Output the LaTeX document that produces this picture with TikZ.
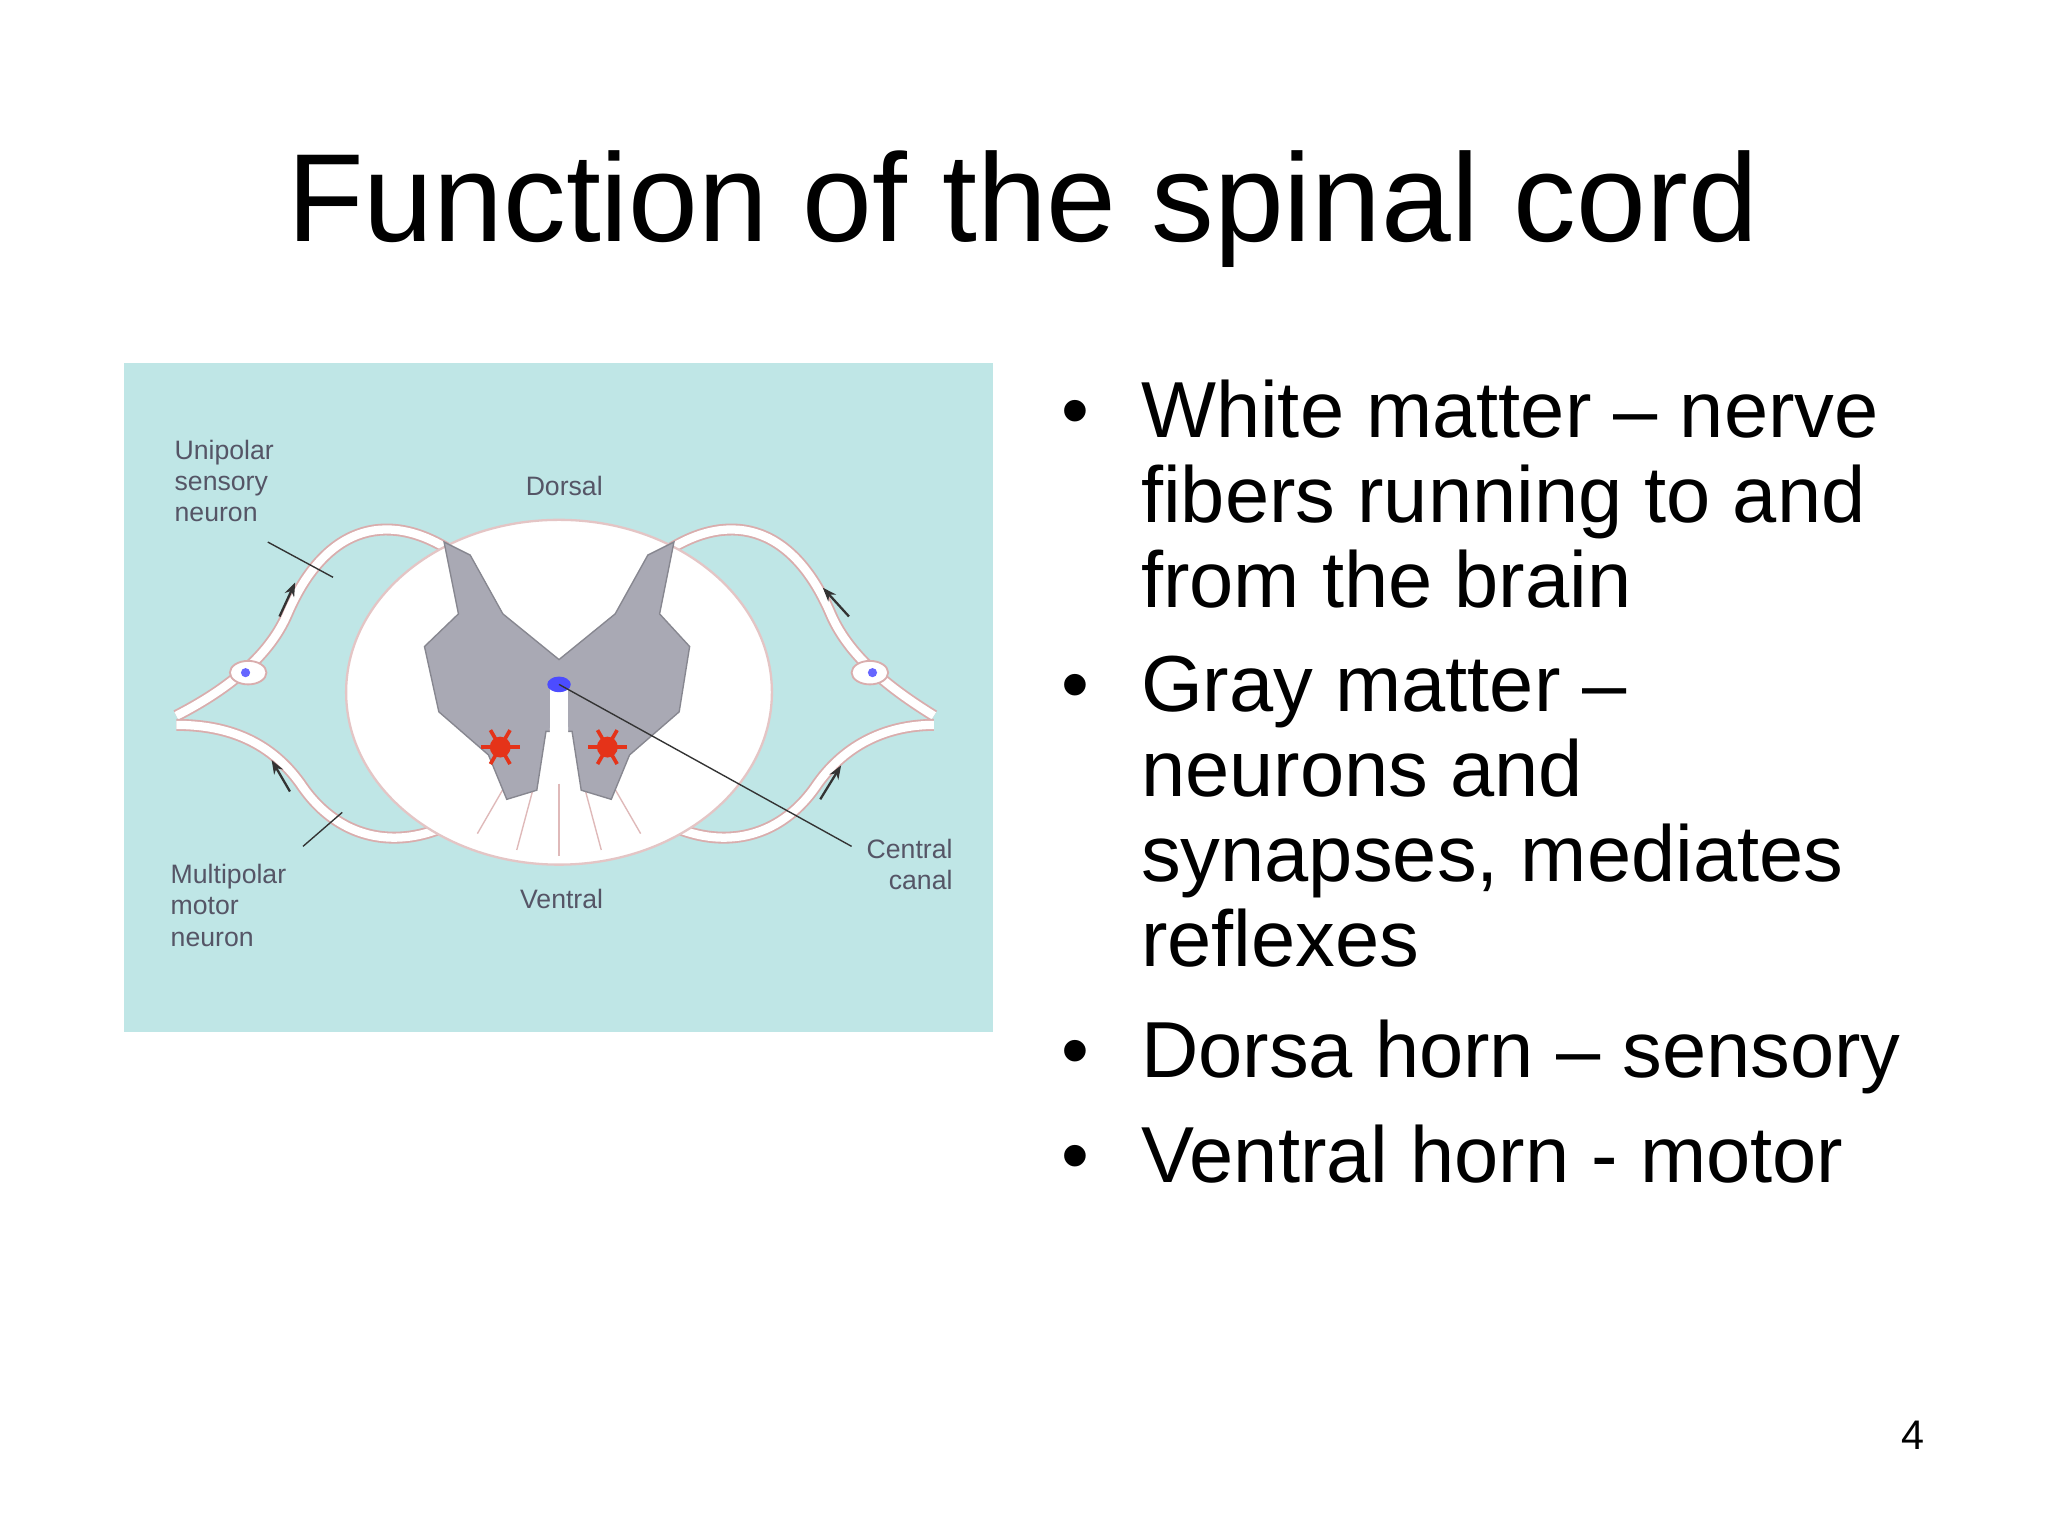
\documentclass[tikz,border=0pt]{standalone}
\usepackage{fontspec}
\setmainfont{Liberation Sans}
\usetikzlibrary{arrows.meta}
\definecolor{bgc}{HTML}{BFE6E6}
\definecolor{graym}{HTML}{A9A9B4}
\definecolor{nerve}{HTML}{C98A8A}
\definecolor{lab}{HTML}{555566}
\tikzset{
  bul/.style={anchor=base west,font=\fontsize{17.3}{17.3}\selectfont,inner sep=0},
  lbl/.style={font=\fontsize{5.8}{6.8}\selectfont,text=lab,align=left,inner sep=0},
  root/.style={draw=nerve!70,line width=2.6pt},
  rootin/.style={draw=white,line width=1.8pt},
  lead/.style={draw=black!80,line width=0.3pt},
  sarrow/.style={-{Stealth[length=3pt]},black!80,line width=0.5pt}
}
\begin{document}
\begin{tikzpicture}[x=0.01cm,y=-0.01cm]
\useasboundingbox (0,0) rectangle (1568,1176);
\fill[white] (0,0) rectangle (1568,1176);
\node[font=\fontsize{27.3}{27.3}\selectfont,anchor=base] (title) at (783,185) {Function of the spinal cord};
% panel
\fill[bgc] (95,278) rectangle (760,790);
% roots
\foreach \p in {
 {(350,425) .. controls (300,390) and (250,400) .. (220,470) .. controls (205,505) and (170,530) .. (135,548)},
 {(385,600) .. controls (340,650) and (270,660) .. (230,600) .. controls (205,565) and (170,555) .. (135,555)},
 {(506,425) .. controls (556,390) and (606,400) .. (636,470) .. controls (651,505) and (686,530) .. (715,548)},
 {(471,600) .. controls (516,650) and (586,660) .. (626,600) .. controls (651,565) and (686,555) .. (715,555)}}
 {\draw[root] \p; \draw[rootin] \p;}
% cord
\draw[draw=nerve!50,fill=white,line width=0.5pt] (428,530) ellipse [x radius=163,y radius=132];
% white matter radial lines
\foreach \a in {-60,-75,-90,-105,-120}{\draw[nerve!60,line width=0.3pt] (428,530)++(\a:-70) -- ++(\a:-55);}
% gray matter
\fill[graym,draw=graym!80!black,line width=0.3pt] (340,415) -- (360,425) -- (385,470) -- (428,505) -- (471,470) -- (496,425) -- (516,415) -- (505,470) -- (528,495) -- (520,545) -- (482,578) -- (468,612) -- (445,605) -- (438,560) -- (418,560) -- (411,605) -- (388,612) -- (374,578) -- (336,545) -- (325,495) -- (351,470) -- cycle;
\fill[white] (421,520) rectangle (435,560);
\fill[white] (428,560) ellipse [x radius=7, y radius=20];
% ganglia
\fill[white,draw=nerve!70] (190,515) ellipse [x radius=14,y radius=9];
\fill[blue!60] (188,515) circle (3.5);
\fill[white,draw=nerve!70] (666,515) ellipse [x radius=14,y radius=9];
\fill[blue!60] (668,515) circle (3.5);
% motor neurons
\foreach \x in {383,465}{\fill[red!60!brown] (\x,572) circle (8);
 \foreach \a in {0,60,...,300}{\draw[red!60!brown,line width=0.8pt] (\x,572) -- ++(\a:15);}}
% central canal
\fill[blue!70] (428,524) ellipse [x radius=9,y radius=6];
\coordinate (cc) at (428,524);
% labels
\node[lbl,anchor=north west] (uni) at (133,336) {Unipolar\\sensory\\neuron};
\node[lbl] (dor) at (432,372) {Dorsal};
\node[lbl,anchor=north west] (mul) at (130,661) {Multipolar\\motor\\neuron};
\node[lbl] (ven) at (430,688) {Ventral};
\node[lbl,anchor=north east,align=right] (cen) at (730,642) {Central\\canal};
\draw[lead] (205,415) -- (255,442);
\draw[lead] (232,648) -- (262,622);
\draw[lead] (cc) -- (652,648);
% small arrows
\draw[sarrow] (214,472) -- (226,446);
\draw[sarrow] (222,606) -- (208,582);
\draw[sarrow] (650,472) -- (630,450);
\draw[sarrow] (628,612) -- (644,586);
% bullets
\foreach \y/\t/\b in {335/{White matter -- nerve}/1,400/{fibers running to and}/0,465/{from the brain}/0,545/{Gray matter --}/1,610/{neurons and}/0,675/{synapses, mediates}/0,740/{reflexes}/0,825/{Dorsa horn -- sensory}/1,905/{Ventral horn - motor}/1}{
  \node[bul] at (873,\y) {\t};
  \ifnum\b=1 \node[bul] at (812,\y) {•};\fi}
\node[anchor=base,font=\fontsize{9}{9}\selectfont] (pg) at (1465,1110) {4};
\end{tikzpicture}
\end{document}
